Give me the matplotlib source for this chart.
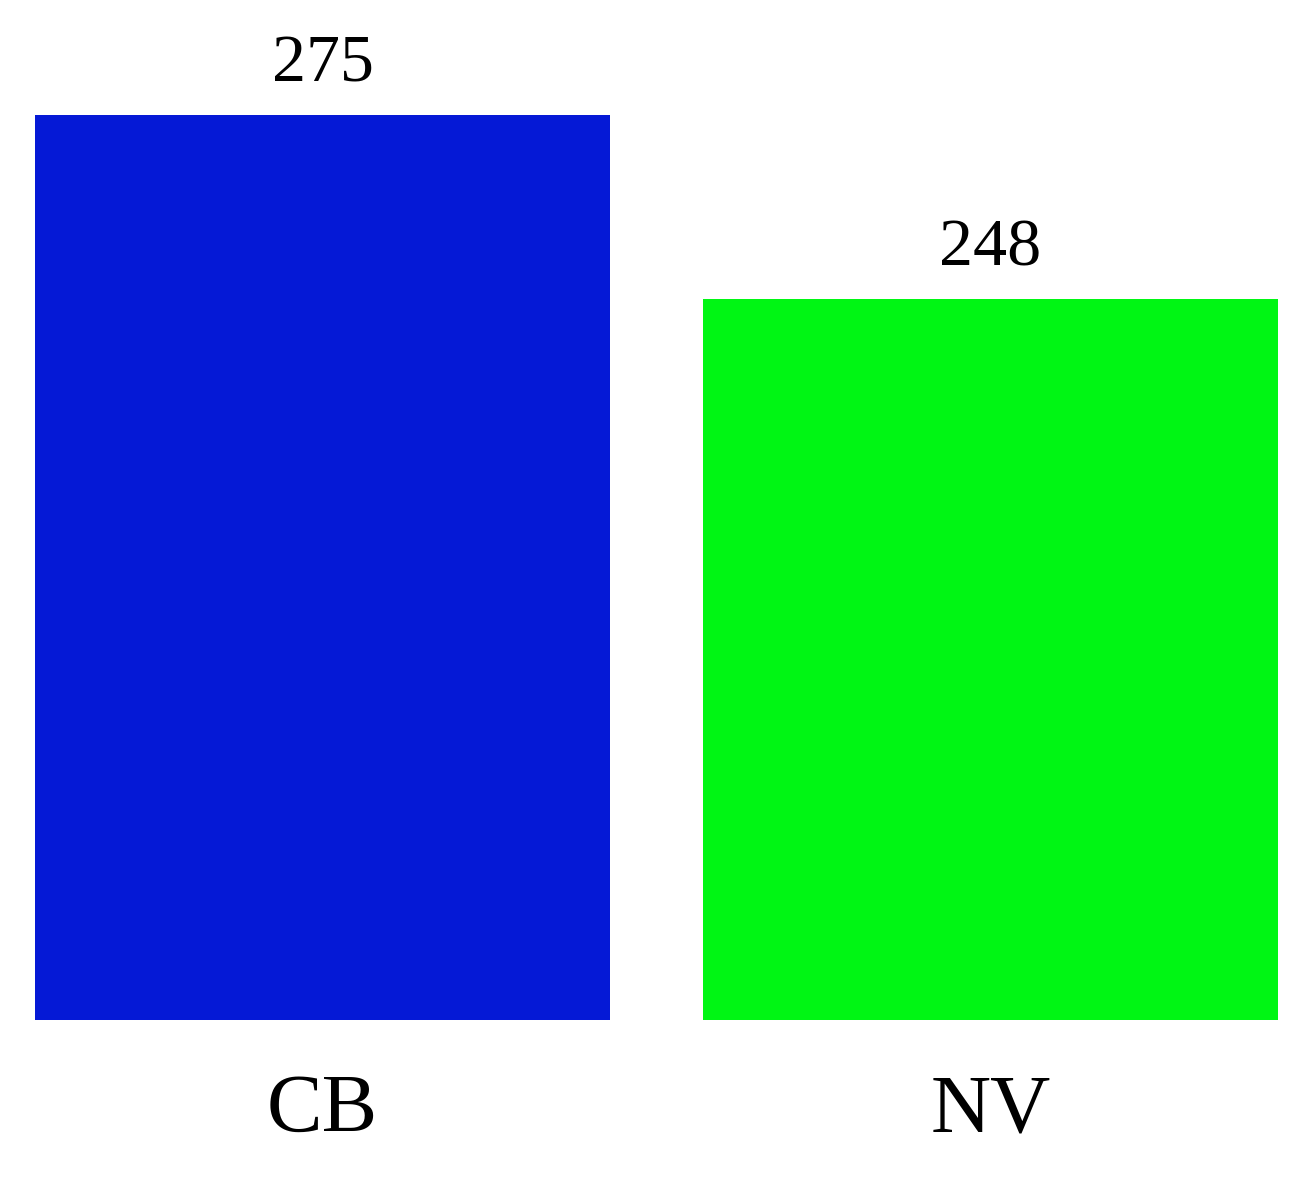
import matplotlib
matplotlib.use("Agg")
import matplotlib.pyplot as plt

categories = ["CB", "NV"]
values = [275, 248]
bar_colors = ["#0519D6", "#00F614"]

plt.rcParams["font.family"] = ["Liberation Serif", "DejaVu Serif"]

fig = plt.figure(figsize=(13.02, 11.79), dpi=100)
ax = fig.add_axes([35 / 1302, 1 - 1020 / 1179, (1278 - 35) / 1302, (1020 - 115) / 1179])

x = range(len(categories))
bars = ax.bar(x, values, width=0.861, color=bar_colors)

for rect, v in zip(bars, values):
    ax.annotate(str(v), (rect.get_x() + rect.get_width() / 2, v),
                xytext=(0, 24), textcoords="offset points",
                ha="center", va="baseline", fontsize=49)

ax.set_xlim(-0.4305, 1.4305)
ax.set_ylim(142, 275)
ax.set_xticks(list(x), labels=categories)
ax.tick_params(axis="x", length=0, pad=80, labelsize=60)
plt.setp(ax.get_xticklabels(), va="baseline")
ax.set_yticks([])
for s in ax.spines.values():
    s.set_visible(False)

fig.savefig("out.png", dpi=100)
